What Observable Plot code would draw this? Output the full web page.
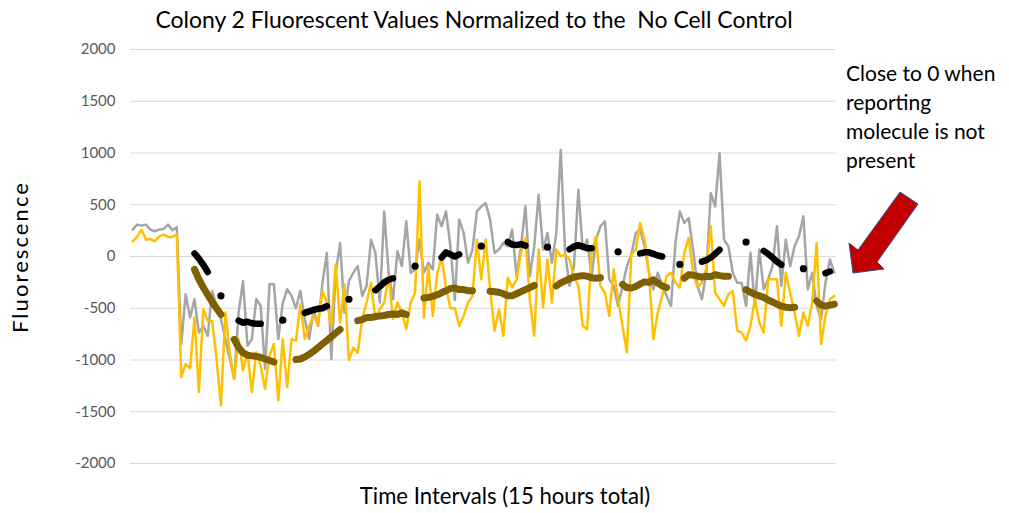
<!DOCTYPE html>
<html><head><meta charset="utf-8">
<script src="https://cdn.jsdelivr.net/npm/d3@7"></script>
<script src="https://cdn.jsdelivr.net/npm/@observablehq/plot@0.6"></script>
<style>
body{margin:0;background:#fff;}
#wrap{position:relative;width:1009px;height:513px;font-family:Lato,sans-serif;overflow:hidden;}
#wrap svg{position:absolute;left:0;top:0;}
.t{position:absolute;white-space:nowrap;color:#000;line-height:1;}
</style></head><body>
<div id="wrap">
<div class="t" id="title" data-w="638" style="left:474px;top:19px;transform:translate(-50%,-50%);font-size:20px;">Colony 2 Fluorescent Values Normalized to the&nbsp; No Cell Control</div>
<div class="t" id="xt" data-w="290" style="left:505px;top:496px;transform:translate(-50%,-50%);font-size:20px;">Time Intervals (15 hours total)</div>
<div class="t" id="yt" data-ls="152" style="left:20px;top:257px;transform:translate(-50%,-50%) rotate(-90deg);font-size:22px;">Fluorescence</div>
<div class="t" id="ann" style="left:846px;top:58px;font-size:21px;line-height:29px;">Close to 0 when<br>reporting<br>molecule is not<br>present</div>
</div>
<script>
const yTicks = [-2000,-1500,-1000,-500,0,500,1000,1500,2000];

const grayValues = [
 260,308,298,308,260,244,260,266,308,253,285,
 -846,-365,-590,-413,-734,-670,-766,-333,-477,-606,-798,-990,-1183,-542,-237,-862,-798,-413,-477,-1086,-269,-269,-798,-450,-317,-380,-500,
 -333,-606,-798,-510,-670,-253,35,-990,-157,131,-542,-237,-157,-93,-381,-285,163,35,-445,436,-157,-413,51,-93,340,-157,-125,163,-157,-61,-125,404,292,436,99,-420,
 356,228,-61,67,436,484,516,356,35,67,131,99,260,-189,99,484,-189,99,596,67,228,-61,228,1029,35,-285,-93,644,67,163,-189,163,292,340,-221,-285,
 -477,-285,-93,19,228,260,99,-157,-317,-157,-285,-381,-477,131,436,324,372,67,-285,-413,-157,612,484,997,163,99,-157,-253,-253,-477,35,-477,67,-317,-221,-93,
 292,-285,163,-93,99,196,388,-317,-157,-477,-606,-253,-29,-157
];

const yellowValues = [
 147,189,260,163,170,147,195,212,189,189,212,
 -1166,-1040,-1080,-590,-1310,-510,-622,-622,-990,-1440,-540,-926,-1183,-798,-1100,-926,-1310,-926,-1055,-1278,-958,-846,-1390,-800,-1262,-798,-814,
 -461,-798,-670,-574,-654,-333,-445,-670,-77,-638,-269,-1000,-880,-930,-606,-445,-253,-606,-510,-445,-189,-606,-445,-542,-702,-445,-349,724,-590,-93,-574,-173,0,-300,-500,-500,
 -670,-574,-445,-381,163,-221,163,-317,-718,-510,-766,-205,-301,-221,35,180,-413,-766,67,-493,-29,-445,67,3,19,-29,-189,-285,-670,-702,35,196,-285,-349,-574,-125,
 -413,-670,-926,19,67,324,163,-157,-798,-542,-381,-189,-157,-253,-301,35,180,-157,-301,-253,-109,292,-349,-413,-477,-365,-333,-718,-734,-814,-670,-413,-638,-734,-221,-221,
 -221,-670,-157,-349,-542,-766,-542,-670,-445,131,-846,-574,-413,-381
];

const oliveSegments = [
 {start:14, values:[-125,-220,-300,-370,-440,-500,-560]},
 {start:23, values:[-800,-880,-930,-955,-960,-965,-975,-990,-1005,-1020]},
 {start:37, values:[-995,-990,-970,-945,-915,-880,-845,-810,-775,-740,-705]},
 {start:51, values:[-620,-610,-590,-590,-580,-575,-570,-560,-555,-560,-545,-560]},
 {start:66, values:[-400,-395,-385,-370,-350,-330,-310,-305,-320,-320,-330,-330]},
 {start:81, values:[-335,-340,-345,-360,-380,-380,-360,-340,-320,-300,-280]},
 {start:96, values:[-285,-255,-235,-215,-200,-190,-185,-190,-205,-210,-205]},
 {start:111, values:[-270,-300,-305,-290,-265,-245,-250,-225,-255,-285,-300]},
 {start:125, values:[-210,-175,-180,-190,-200,-190,-195,-175,-185,-190,-190]},
 {start:139, values:[-320,-345,-365,-380,-395,-420,-440,-460,-480,-490,-495,-490]},
 {start:155, values:[-430,-470,-480,-470,-460]}
];

const blackSegments = [
 {start:14, values:[30,-20,-80,-150]},
 {start:20, values:[-380]},
 {start:24, values:[-620,-640,-630,-645,-650,-650]},
 {start:34, values:[-615]},
 {start:39, values:[-545,-530,-515,-505,-500,-480]},
 {start:49, values:[-414]},
 {start:55, values:[-325,-290,-250,-225,-210]},
 {start:64, values:[-93]},
 {start:70, values:[-10,40,20,0,20]},
 {start:79, values:[100]},
 {start:85, values:[140,115,110,120,105]},
 {start:94, values:[90]},
 {start:99, values:[70,95,110,95,80,80]},
 {start:110, values:[45]},
 {start:115, values:[30,40,40,25,10,0]},
 {start:124, values:[-77]},
 {start:129, values:[-50,-35,-10,25,65]},
 {start:139, values:[140]},
 {start:143, values:[55,25,-10,-50,-80]},
 {start:152, values:[-118]},
 {start:157, values:[-160,-145]}
];

const gray = grayValues.map((v,i)=>({x:i,y:v}));
const yellow = yellowValues.map((v,i)=>({x:i,y:v}));
const flat = segs => segs.flatMap((s,k)=>s.values.map((v,j)=>({seg:k,x:s.start+j,y:v,n:s.values.length})));
const olive = flat(oliveSegments);
const black = flat(blackSegments);

const chart = Plot.plot({
  width:1009, height:513,
  marginLeft:130, marginRight:173, marginTop:49, marginBottom:50,
  x:{domain:[-0.5,159.5], axis:null},
  y:{domain:[-2000,2000]},
  style:{fontFamily:"Lato, sans-serif", background:"transparent"},
  marks:[
    Plot.gridY(yTicks,{stroke:"#d9d9d9", strokeOpacity:1, strokeWidth:1}),
    Plot.axisY(yTicks,{tickSize:0, tickPadding:15, fontSize:15, fill:"#595959", label:null, tickFormat:d=>String(d)}),
    Plot.line(gray,{x:"x",y:"y",stroke:"#A5A5A5",strokeWidth:2.5,strokeLinejoin:"round"}),
    Plot.line(yellow,{x:"x",y:"y",stroke:"#FFC000",strokeWidth:2.5,strokeLinejoin:"round"}),
    Plot.line(olive,{x:"x",y:"y",z:"seg",stroke:"#7F6000",strokeWidth:7,strokeLinecap:"round",strokeLinejoin:"round"}),
    Plot.line(black.filter(d=>d.n>1),{x:"x",y:"y",z:"seg",stroke:"#000",strokeWidth:6.5,strokeLinecap:"round",strokeLinejoin:"round"}),
    Plot.dot(black.filter(d=>d.n===1),{x:"x",y:"y",r:3.6,fill:"#000",stroke:null})
  ]
});
document.getElementById("wrap").prepend(chart);

// red block arrow annotation pointing at the chart
d3.select(chart).append("polygon")
  .attr("points","900,192 858,250 849,243 853,273 884,269 877,262 918,204")
  .attr("fill","#C00000").attr("stroke","#2F528F").attr("stroke-width",1);

// size the titles to the reference text widths
document.querySelectorAll(".t[data-w]").forEach(el=>{
  const base = parseFloat(el.style.fontSize);
  const w = el.offsetWidth;
  el.style.fontSize = (base * (+el.dataset.w) / w).toFixed(2) + "px";
});
document.querySelectorAll(".t[data-ls]").forEach(el=>{
  const n = el.textContent.length;
  const w = el.offsetWidth;
  el.style.letterSpacing = ((+el.dataset.ls - w) / n).toFixed(2) + "px";
});
</script>
</body></html>
